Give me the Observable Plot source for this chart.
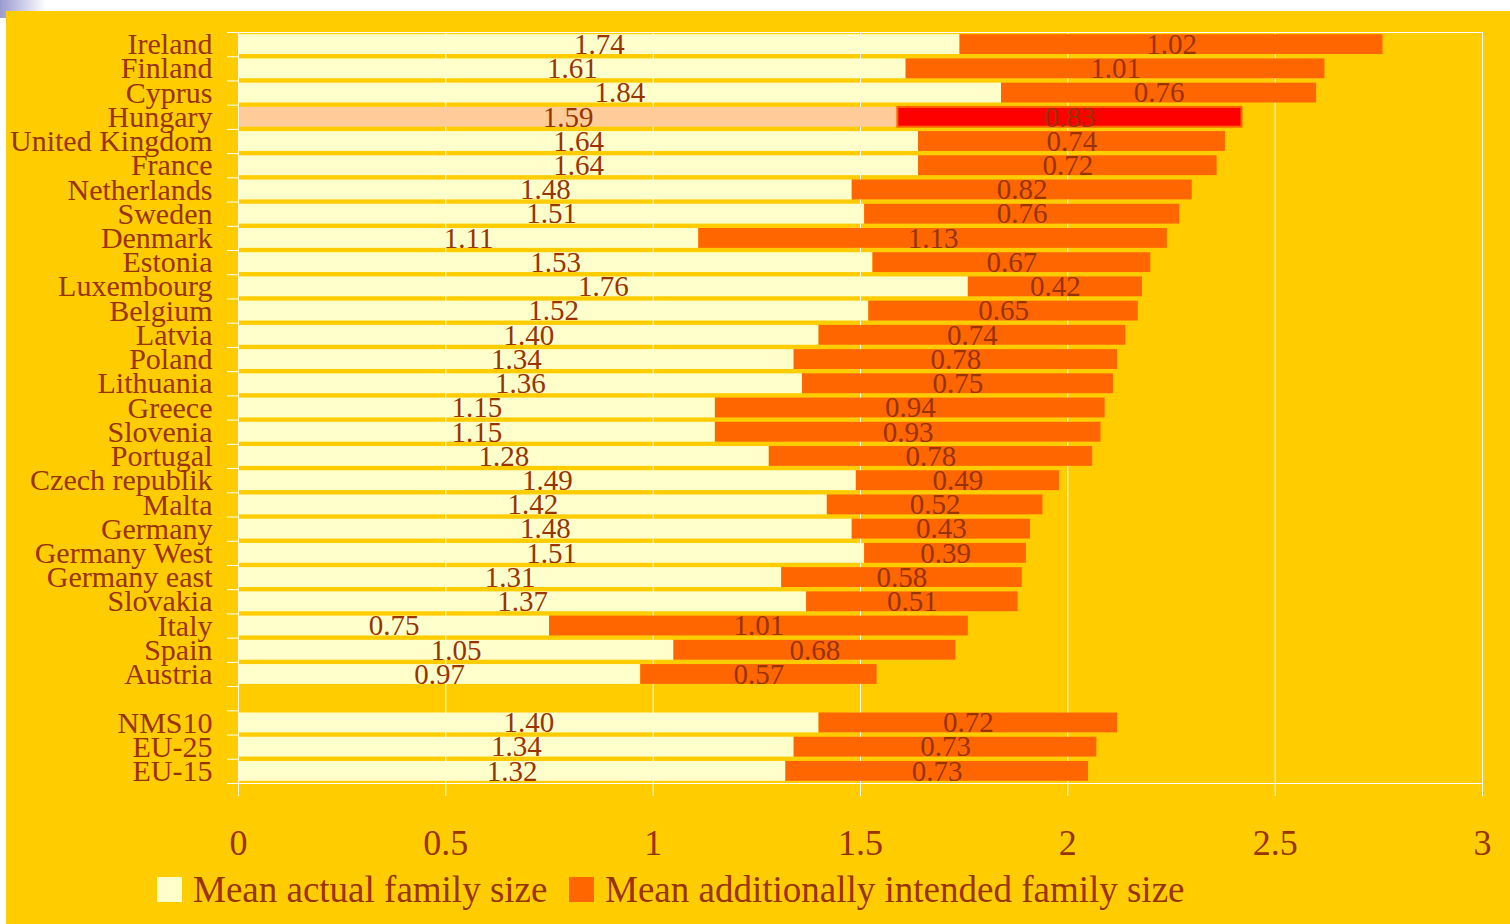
<!DOCTYPE html>
<html>
<head>
<meta charset="utf-8">
<script src="https://cdn.jsdelivr.net/npm/d3@7"></script>
<script src="https://cdn.jsdelivr.net/npm/@observablehq/plot@0.6"></script>
<style>
  html, body { margin: 0; padding: 0; background: #ffffff; width: 1510px; height: 924px; overflow: hidden; }
  #deco { position: absolute; left: 0; top: 0; width: 46px; height: 18px; background: linear-gradient(to right, #9a9ad2, #ffffff); }
  #panel { position: absolute; left: 6px; top: 11px; width: 1504px; height: 913px; background: #FFCC00; font-family: "Liberation Serif", "Times New Roman", serif; color: #993300; }
  #chart { position: absolute; left: 0; top: 0; }
  .sw { position: absolute; width: 25px; height: 25px; }
  .lt { position: absolute; font-size: 37px; line-height: 37px; white-space: nowrap; color: #993300; }
</style>
</head>
<body>
<div id="deco"></div>
<div id="panel">
  <div id="chart"></div>
  <div class="sw" style="left:151px; top:866px; background:#FFFFCC;"></div>
  <div class="lt" style="left:187px; top:860px;">Mean actual family size</div>
  <div class="sw" style="left:563px; top:866px; background:#FF6600;"></div>
  <div class="lt" style="left:599px; top:860px;">Mean additionally intended family size</div>
</div>
<script>
const countries = ["Ireland","Finland","Cyprus","Hungary","United Kingdom","France","Netherlands","Sweden","Denmark","Estonia","Luxembourg","Belgium","Latvia","Poland","Lithuania","Greece","Slovenia","Portugal","Czech republik","Malta","Germany","Germany West","Germany east","Slovakia","Italy","Spain","Austria","","NMS10","EU-25","EU-15"];
const actualSize = [1.74,1.61,1.84,1.59,1.64,1.64,1.48,1.51,1.11,1.53,1.76,1.52,1.40,1.34,1.36,1.15,1.15,1.28,1.49,1.42,1.48,1.51,1.31,1.37,0.75,1.05,0.97,null,1.40,1.34,1.32];
const intendedSize = [1.02,1.01,0.76,0.83,0.74,0.72,0.82,0.76,1.13,0.67,0.42,0.65,0.74,0.78,0.75,0.94,0.93,0.78,0.49,0.52,0.43,0.39,0.58,0.51,1.01,0.68,0.57,null,0.72,0.73,0.73];
const xTicks = [0,0.5,1,1.5,2,2.5,3];
const highlight = "Hungary";

const rows = countries.map((name, i) => ({name, i, actual: actualSize[i], intended: intendedSize[i]}))
  .filter(d => d.actual != null);
const boundaries = d3.range(countries.length + 1).map(k => k - 0.5);
const fmt = d3.format(".2f");

const chart = Plot.plot({
  width: 1504,
  height: 850,
  marginLeft: 232,
  marginRight: 28,
  marginTop: 21,
  marginBottom: 78,
  style: {fontFamily: "Liberation Serif, Times New Roman, serif", background: "transparent", color: "#993300", overflow: "visible"},
  x: {domain: [0, 3], axis: null},
  y: {domain: [countries.length - 0.5, -0.5], axis: null},
  marks: [
    Plot.gridX(xTicks, {stroke: "white", strokeOpacity: 1}),
    Plot.rectX(rows, {x1: 0, x2: "actual", y1: d => d.i - 0.5, y2: d => d.i + 0.5, insetTop: 2.2, insetBottom: 2.2,
      fill: d => d.name === highlight ? "#FFCC99" : "#FFFFCC"}),
    Plot.rectX(rows, {x1: "actual", x2: d => d.actual + d.intended, y1: d => d.i - 0.5, y2: d => d.i + 0.5, insetTop: 2.2, insetBottom: 2.2,
      fill: d => d.name === highlight ? "#FF0000" : "#FF6600",
      stroke: d => d.name === highlight ? "#FF6600" : "none", strokeWidth: 2}),
    Plot.frame({stroke: "white"}),
    Plot.text(rows, {x: d => d.actual / 2, y: "i", text: d => fmt(d.actual), fontSize: 29, fill: "#993300"}),
    Plot.text(rows, {x: d => d.actual + d.intended / 2, y: "i", text: d => fmt(d.intended), fontSize: 29, fill: "#993300"}),
    Plot.axisX({ticks: xTicks, label: null, tickSize: 13, tickPadding: 33, stroke: "white", fontSize: 36, tickFormat: d => String(d)}),
    Plot.axisY({ticks: rows.map(d => d.i), label: null, tickFormat: i => countries[i], tickSize: 0, tickPadding: 26, fontSize: 30}),
    Plot.axisY({ticks: boundaries, label: null, tickFormat: () => "", tickSize: 11, stroke: "white"})
  ]
});
document.getElementById("chart").appendChild(chart);
</script>
</body>
</html>
